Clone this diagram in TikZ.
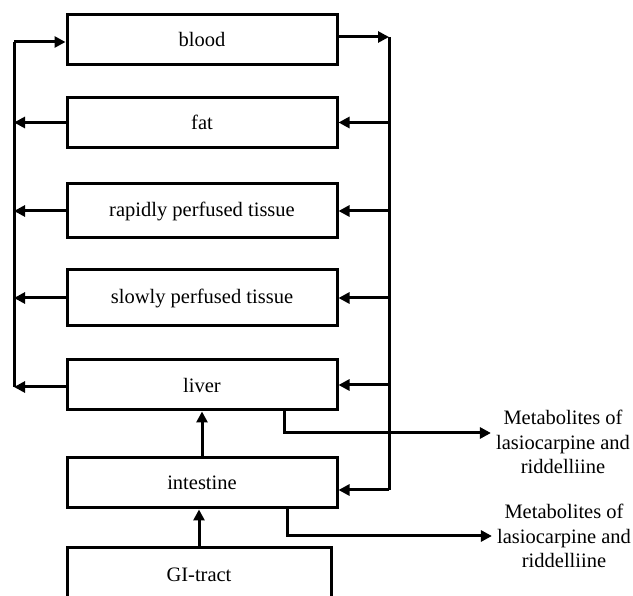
\documentclass[tikz,border=0pt]{standalone}
\usepackage{fontspec}
\setmainfont{Liberation Serif}
\usetikzlibrary{arrows.meta,calc}
\tikzset{
  box/.style={draw, line width=3pt, minimum width=270pt, minimum height=50pt, inner sep=0pt, font=\fontsize{20.5}{25}\selectfont},
  ln/.style={line width=3pt},
  arr/.style={line width=3pt, -{Triangle[length=11pt,width=11pt]}},
  metab/.style={align=center, inner sep=5pt, font=\fontsize{20.5}{24.5}\selectfont}
}
\begin{document}
\begin{tikzpicture}[x=1pt,y=-1pt]
\useasboundingbox (0,0) rectangle (633,596);
\clip (0,0) rectangle (633,596);
\node[box] (blood) at (202,39.5) {blood};
\node[box] (fat) at (202,122.5) {fat};
\node[box, minimum height=54pt] (rapid) at (202,211) {rapidly perfused tissue};
\node[box, minimum height=56pt] (slow) at (202,298) {slowly perfused tissue};
\node[box] (liver) at (202,385) {liver};
\node[box] (intest) at (202,483) {intestine};
\node[box, minimum width=264pt, minimum height=54pt] (gi) at (199,575) {GI-tract};
\node[metab] (met1) at (563,442) {Metabolites of\\lasiocarpine and\\riddelliine};
\node[metab] (met2) at (564,536) {Metabolites of\\lasiocarpine and\\riddelliine};
\coordinate (rtop) at (389,37);
\coordinate (rbot) at (389,490);
\coordinate (ltop) at (14,42);
\coordinate (lbot) at (14,387);
% right bus
\draw[ln] (rbot) -- (rtop);
\draw[arr] (blood.east |- rtop) -- (rtop);
\draw[arr] (fat.east -| rtop) -- (fat.east);
\draw[arr] (rapid.east -| rtop) -- (rapid.east);
\draw[arr] (slow.east -| rtop) -- (slow.east);
\draw[arr] (liver.east -| rtop) -- (liver.east);
\draw[arr] (rbot) -- (rbot -| intest.east);
% left bus
\draw[ln] (lbot) -- (ltop);
\draw[arr] (ltop) -- (ltop -| blood.west);
\draw[arr] (fat.west) -- (fat.west -| ltop);
\draw[arr] (rapid.west) -- (rapid.west -| ltop);
\draw[arr] (slow.west) -- (slow.west -| ltop);
\draw[arr] (liver.west |- lbot) -- (lbot);
% vertical flow
\draw[arr] (gi.north) -- (gi.north |- intest.south);
\draw[arr] (intest.north) -- (liver.south);
% metabolites
\draw[arr] ([xshift=82pt]liver.south) |- ([yshift=9pt]met1.west);
\draw[arr] ([xshift=85pt]intest.south) |- (met2.west);
\end{tikzpicture}
\end{document}
